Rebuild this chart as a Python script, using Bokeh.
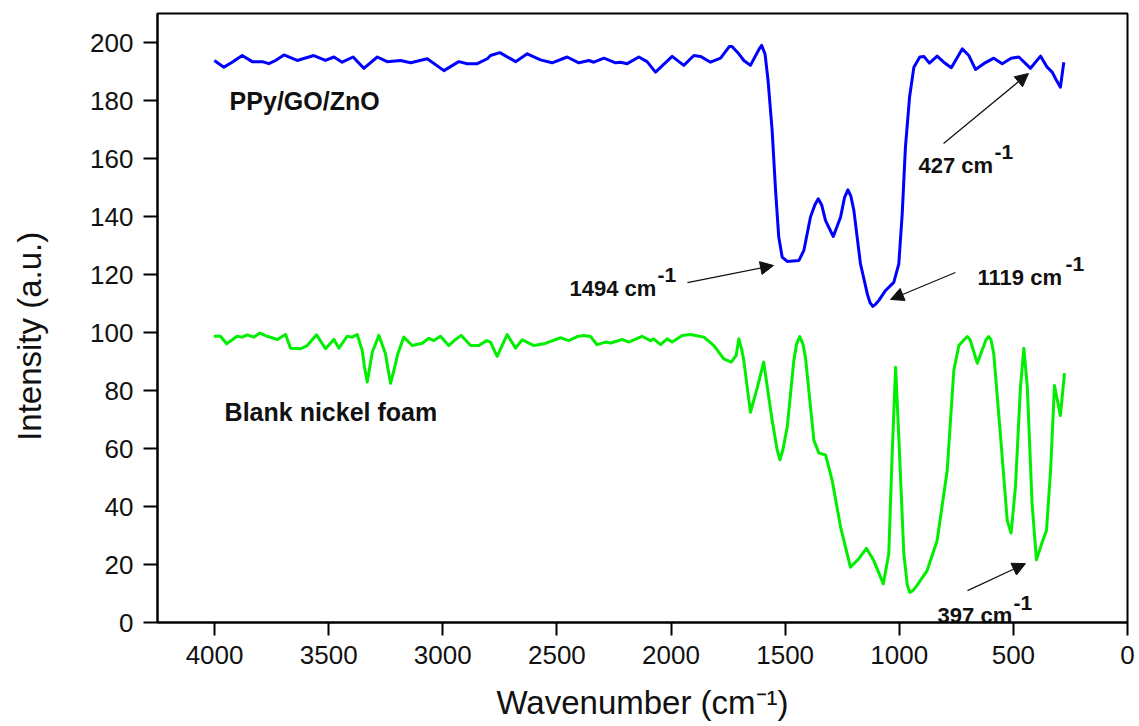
from bokeh.plotting import figure
from bokeh.models import Range1d, FixedTicker, Arrow, NormalHead
from bokeh.core.properties import value
from bokeh.embed import file_html
from bokeh.resources import INLINE

# ---------------- data ----------------
x_ticks = [0, 500, 1000, 1500, 2000, 2500, 3000, 3500, 4000]
y_ticks = [0, 20, 40, 60, 80, 100, 120, 140, 160, 180, 200]

ppy_wn = [4001, 3959, 3923, 3879, 3835, 3791, 3762, 3733, 3696, 3638, 3565, 3514,
          3477, 3441, 3393, 3346, 3287, 3244, 3185, 3141, 3068, 2995, 2930, 2893,
          2849, 2805, 2791, 2750, 2681, 2630, 2572, 2521, 2455, 2404, 2360, 2338,
          2294, 2243, 2221, 2192, 2141, 2105, 2068, 1995, 1944, 1900, 1871, 1827,
          1783, 1745, 1733, 1703, 1681, 1652, 1612, 1603, 1588, 1575, 1557, 1542, 1528, 1513,
          1491, 1440, 1418, 1389, 1370, 1355, 1340, 1323, 1289, 1257, 1240, 1225, 1212, 1199,
          1170, 1140, 1128, 1116, 1103, 1090, 1060, 1024, 1002, 987, 973, 955, 936, 910, 892,
          868, 834, 805, 772, 724, 695, 666, 630, 586, 549, 510, 476, 425, 381, 352, 330,
          315, 294, 279]
ppy_int = [193.8, 191.5, 193.2, 195.5, 193.4, 193.4, 192.7, 193.8, 195.7, 193.8, 195.5, 193.8,
           195.0, 193.2, 195.0, 191.1, 195.0, 193.4, 193.8, 193.0, 194.4, 190.3, 193.4, 192.7,
           192.7, 194.4, 195.5, 196.5, 193.4, 196.1, 194.0, 193.0, 195.0, 193.0, 193.8, 193.2,
           194.6, 193.0, 193.2, 192.7, 195.0, 193.4, 189.8, 195.2, 192.1, 195.5, 195.2, 193.2,
           194.6, 198.6, 198.6, 196.1, 193.8, 192.1, 198.0, 199.0, 196.0, 187.0, 169.7, 149.0, 132.9, 126.0,
           124.5, 124.8, 128.3, 139.8, 144.0, 146.1, 144.0, 138.6, 133.1, 139.8, 146.5, 149.2, 147.0, 142.1,
           123.7, 113.3, 110.3, 109.0, 109.8, 111.0, 114.5, 117.3, 123.7, 141.0, 163.9, 181.1, 191.5, 195.0, 195.2,
           192.9, 195.3, 193.2, 191.3, 197.8, 195.5, 190.7, 192.7, 194.6, 192.7, 194.6, 195.0, 191.1, 195.3, 191.5, 189.8,
           187.5, 184.6, 193.2]

ni_wn = [4003, 3974, 3947, 3901, 3879, 3857, 3828, 3802, 3769, 3725, 3689, 3667,
         3623, 3594, 3553, 3514, 3477, 3455, 3419, 3397, 3375, 3353, 3343, 3331,
         3320, 3309, 3280, 3251, 3239, 3229, 3214, 3197, 3171, 3134, 3090, 3061,
         3039, 3010, 2974, 2944, 2919, 2878, 2842, 2808, 2791, 2762, 2718, 2681,
         2652, 2601, 2557, 2484, 2448, 2411, 2382, 2353, 2324, 2287, 2265, 2214,
         2185, 2127, 2090, 2076, 2046, 2017, 1995, 1951, 1915, 1856, 1812, 1769,
         1736, 1715, 1703, 1690, 1681, 1666, 1652, 1622, 1594, 1557, 1535, 1523, 1510, 1491,
         1462, 1450, 1436, 1422, 1411, 1374, 1352, 1323, 1294, 1257, 1214, 1177, 1144, 1112,
         1070, 1046, 1031, 1016, 1002, 980, 965, 954, 940, 922, 878, 834, 790, 761, 739,
         715, 702, 690, 658, 620, 608, 598, 586, 556, 527, 510, 491, 469, 454, 439, 418, 399, 374,
         355, 337, 320, 294, 276]
ni_int = [98.7, 98.7, 96.1, 98.7, 98.4, 99.2, 98.4, 99.8, 98.7, 97.6, 99.3, 94.6,
          94.4, 95.5, 99.2, 94.4, 97.6, 94.6, 98.7, 98.4, 99.3, 93.8, 88.0, 82.9,
          88.0, 93.2, 99.0, 92.7, 86.9, 82.5, 86.9, 92.7, 98.4, 95.5, 96.3, 98.0,
          97.2, 98.7, 95.5, 97.6, 99.0, 95.5, 95.5, 97.2, 96.7, 91.8, 99.3, 94.6,
          97.5, 95.5, 96.1, 98.2, 97.2, 98.6, 99.0, 98.6, 95.8, 96.7, 96.4, 97.6,
          96.7, 98.7, 97.2, 97.8, 95.8, 97.8, 96.7, 99.0, 99.3, 98.4, 95.5, 90.9,
          89.8, 92.0, 97.8, 94.0, 90.3, 81.0, 72.5, 81.0, 89.8, 69.7, 59.5, 56.1, 59.5, 67.3,
          90.3, 96.0, 98.6, 96.0, 91.5, 62.8, 58.4, 57.8, 49.0, 32.9, 19.1, 22.0, 25.6, 21.4,
          13.3, 23.7, 58.2, 88.0, 63.9, 23.7, 13.0, 10.4, 11.0, 12.8, 17.9, 28.3, 52.4, 86.9, 95.5,
          97.6, 98.6, 97.6, 89.4, 97.5, 98.6, 97.5, 92.7, 63.9, 35.2, 30.8, 46.7, 81.1, 94.6, 81.1, 40.9, 21.6, 27.7,
          31.7, 52.4, 81.7, 71.4, 86.0]

series_names = ["PPy/GO/ZnO", "Blank nickel foam"]
peak_labels = ["1494 cm", "1119 cm", "427 cm", "397 cm"]
sup_label = "-1"
x_title = "Wavenumber (cm\u207b\u00b9)"
y_title = "Intensity (a.u.)"

# ---------------- figure ----------------
FONT = "Liberation Sans"
INK = "#111111"
p = figure(width=1135, height=724, x_range=Range1d(4250, 0), y_range=Range1d(0, 210),
           output_backend="svg", toolbar_location=None,
           min_border_left=157, min_border_right=8, min_border_top=13, min_border_bottom=102)
p.background_fill_color = "white"
p.border_fill_color = "white"
p.grid.visible = False
p.outline_line_color = "black"
p.outline_line_width = 2
p.outline_line_alpha = 1.0

p.xaxis.ticker = FixedTicker(ticks=x_ticks)
p.yaxis.ticker = FixedTicker(ticks=y_ticks)
for ax in (p.xaxis, p.yaxis):
    ax.axis_line_width = 2
    ax.axis_line_color = "black"
    ax.major_tick_line_width = 2
    ax.major_tick_line_color = "black"
    ax.major_tick_in = 0
    ax.minor_tick_in = 0
    ax.minor_tick_out = 0
    ax.major_label_text_font = FONT
    ax.major_label_text_font_size = "26px"
    ax.major_label_text_color = INK
    ax.axis_label_text_font = FONT
    ax.axis_label_text_font_style = "normal"
    ax.axis_label_text_color = INK
p.xaxis.major_tick_out = 13
p.yaxis.major_tick_out = 14
p.xaxis.major_label_standoff = 10
p.yaxis.major_label_standoff = 10
p.xaxis.axis_label = x_title
p.xaxis.axis_label_text_font_size = "33px"
p.xaxis.axis_label_standoff = 17
# trailing no-break spaces push the visible title a little below the frame centre, as in the reference
p.yaxis.axis_label = y_title + "\u00a0" * 4
p.yaxis.axis_label_text_font_size = "33px"
p.yaxis.axis_label_standoff = 39

# ---------------- curves ----------------
p.line(ppy_wn, ppy_int, line_color="#0000ff", line_width=3, line_join="round")
p.line(ni_wn, ni_int, line_color="#00ee00", line_width=3, line_join="round")

# ---------------- series names ----------------
p.text(x=[3934, 3956], y=[180.0, 72.5], text=series_names,
       text_font=value(FONT), text_font_style="bold", text_font_size="25px",
       text_align="left", text_baseline="alphabetic", text_color=INK)

# ---------------- peak annotations ----------------
ann_x = [2445, 657, 916, 832]
ann_y = [115.2, 119.1, 157.6, 2.4]
main_w = [87, 87, 75, 75]   # rendered width of main text at 22px bold
p.text(x=ann_x, y=ann_y, text=peak_labels,
       text_font=value(FONT), text_font_style="bold", text_font_size="22px",
       text_align="left", text_baseline="alphabetic", text_color=INK)
p.text(x=ann_x, y=ann_y, text=[sup_label] * 4, x_offset=[w + 1 for w in main_w], y_offset=-13,
       text_font=value(FONT), text_font_style="bold", text_font_size="21px",
       text_align="left", text_baseline="alphabetic", text_color=INK)

arrows = [((1928, 117.2), (1551, 123.1)),
          ((754, 120.7), (1038, 111.4)),
          ((806, 165.2), (434, 189.3)),
          ((701, 11.0), (447, 20.3))]
for (xs, ys), (xe, ye) in arrows:
    p.add_layout(Arrow(end=NormalHead(size=13, fill_color=INK, line_color=INK, line_width=1),
                       x_start=xs, y_start=ys, x_end=xe, y_end=ye,
                       line_color=INK, line_width=1.2))

open("out.html", "w").write(file_html(p, INLINE))
